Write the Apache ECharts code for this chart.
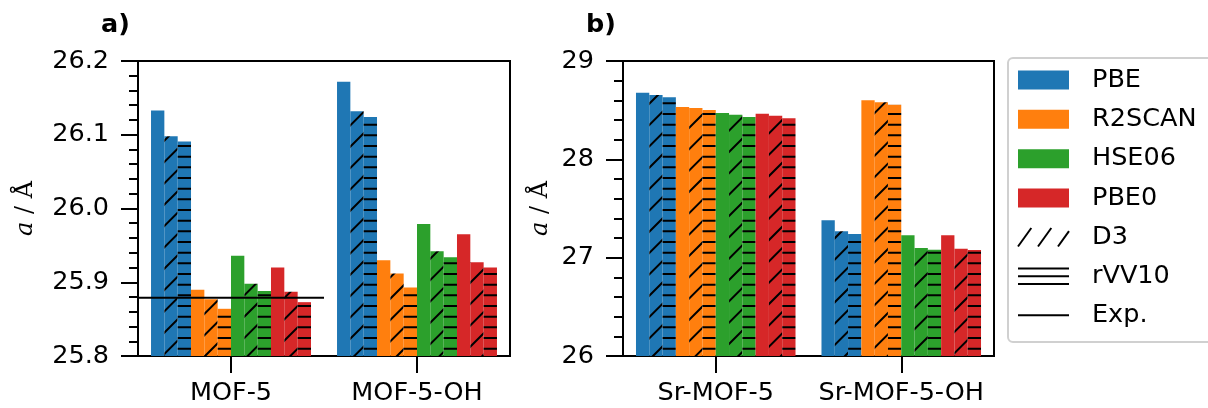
<!DOCTYPE html>
<html>
<head>
<meta charset="utf-8">
<script src="https://cdn.jsdelivr.net/npm/echarts@6/dist/echarts.min.js"></script>
<style>
  html, body { margin: 0; padding: 0; background: #fff; }
  #chart { width: 1208px; height: 408px; }
</style>
</head>
<body>
<div id="chart"></div>
<script>
// categories
const categoriesA = ['MOF-5', 'MOF-5-OH'];
const categoriesB = ['Sr-MOF-5', 'Sr-MOF-5-OH'];
const functionals = ['PBE', 'R2SCAN', 'HSE06', 'PBE0'];
const corrections = ['', 'D3', 'rVV10'];

// panel a) lattice constants, [MOF-5, MOF-5-OH]
const pbeA = [26.133, 26.172];
const pbeD3A = [26.098, 26.132];
const pbeVVA = [26.091, 26.124];
const r2scanA = [25.890, 25.930];
const r2scanD3A = [25.877, 25.912];
const r2scanVVA = [25.864, 25.893];
const hseA = [25.936, 25.979];
const hseD3A = [25.898, 25.942];
const hseVVA = [25.888, 25.934];
const pbe0A = [25.920, 25.965];
const pbe0D3A = [25.887, 25.927];
const pbe0VVA = [25.873, 25.920];
// experimental value for MOF-5, drawn across its category
const expA = [25.879];

// panel b) lattice constants, [Sr-MOF-5, Sr-MOF-5-OH]
const pbeB = [28.678, 27.380];
const pbeD3B = [28.654, 27.268];
const pbeVVB = [28.631, 27.241];
const r2scanB = [28.532, 28.600];
const r2scanD3B = [28.522, 28.580];
const r2scanVVB = [28.502, 28.556];
const hseB = [28.471, 27.227];
const hseD3B = [28.454, 27.098];
const hseVVB = [28.430, 27.081];
const pbe0B = [28.464, 27.227];
const pbe0D3B = [28.444, 27.091];
const pbe0VVB = [28.417, 27.078];

const colors = ['#1f77b4', '#ff7f0e', '#2ca02c', '#d62728'];

const panelA = [
  [pbeA, pbeD3A, pbeVVA],
  [r2scanA, r2scanD3A, r2scanVVA],
  [hseA, hseD3A, hseVVA],
  [pbe0A, pbe0D3A, pbe0VVA]
];
const panelB = [
  [pbeB, pbeD3B, pbeVVB],
  [r2scanB, r2scanD3B, r2scanVVB],
  [hseB, hseD3B, hseVVB],
  [pbe0B, pbe0D3B, pbe0VVB]
];

const FONT = 'DejaVu Sans';
const FS = 25.5;

// hatch fill like matplotlib '/' and '--'
function hatch(color, kind) {
  const c = document.createElement('canvas');
  c.width = 64;
  c.height = 64;
  const g = c.getContext('2d');
  g.fillStyle = color;
  g.fillRect(0, 0, 64, 64);
  g.strokeStyle = '#000';
  g.lineWidth = 2;
  g.beginPath();
  if (kind === 'D3') {
    for (let k = -1; k <= 6; k++) {
      const c0 = 6.3 + k * 64 / 3;
      g.moveTo(c0 + 6, -6);
      g.lineTo(c0 - 70, 70);
    }
  } else {
    for (let k = 0; k < 6; k++) {
      const y = 7.3 + k * 64 / 6;
      g.moveTo(0, y);
      g.lineTo(64, y);
    }
  }
  g.stroke();
  return { image: c, repeat: 'repeat' };
}

const fills = colors.map(col => [col, hatch(col, 'D3'), hatch(col, 'rVV10')]);

let series = [];
[panelA, panelB].forEach((panel, p) => {
  panel.forEach((rows, f) => {
    rows.forEach((vals, v) => {
      series.push({
        name: functionals[f] + (corrections[v] ? ' ' + corrections[v] : ''),
        type: 'bar',
        xAxisIndex: p,
        yAxisIndex: p,
        data: vals,
        barGap: '0%',
        barCategoryGap: '14%',
        itemStyle: { color: fills[f][v] },
        silent: true
      });
    });
  });
});

series.push({
  name: 'Exp.',
  type: 'line',
  xAxisIndex: 2,
  yAxisIndex: 0,
  data: [[-0.5, expA[0]], [0.5, expA[0]]],
  symbol: 'none',
  lineStyle: { color: '#000', width: 2 },
  z: 5,
  silent: true
});

const axisLine = { show: true, onZero: false, lineStyle: { color: '#000', width: 2 } };
const tickStyle = { color: '#000', width: 2 };
const yName = {
  name: '{i|a} / Å',
  nameLocation: 'middle',
  nameRotate: 90,
  nameTextStyle: {
    fontFamily: 'DejaVu Serif',
    fontSize: 24,
    color: '#000',
    rich: { i: { fontFamily: 'DejaVu Serif', fontStyle: 'italic', fontSize: 24, color: '#000' } }
  }
};

function catAxis(idx, data) {
  return {
    type: 'category',
    gridIndex: idx,
    data: data,
    axisLine: axisLine,
    axisTick: { show: true, alignWithLabel: true, length: 17, lineStyle: tickStyle },
    axisLabel: { interval: 0, fontSize: FS, fontFamily: FONT, color: '#000', margin: 24 },
    splitLine: { show: false }
  };
}

function valAxis(idx, min, max, interval, digits, gap) {
  return Object.assign({
    type: 'value',
    gridIndex: idx,
    min: min,
    max: max,
    interval: interval,
    axisLine: axisLine,
    axisTick: { show: true, length: 17, lineStyle: tickStyle },
    minorTick: { show: true, splitNumber: 5, length: 9, lineStyle: tickStyle },
    splitLine: { show: false },
    axisLabel: {
      fontSize: FS, fontFamily: FONT, color: '#000', margin: 29,
      formatter: v => v.toFixed(digits)
    },
    nameGap: gap
  }, yName);
}

// legend drawn by hand (hatch icons)
const legendY = [80, 119.3, 158.7, 198, 237, 276.3, 315.3];
const legendNames = functionals.concat(['D3', 'rVV10', 'Exp.']);
let graphic = [{
  type: 'rect',
  shape: { x: 1008, y: 58, width: 216, height: 284, r: 5 },
  style: { fill: '#fff', stroke: '#d0d0d0', lineWidth: 2 }
}];
colors.forEach((col, i) => {
  graphic.push({
    type: 'rect',
    shape: { x: 1018, y: legendY[i] - 9.5, width: 51, height: 19 },
    style: { fill: col }
  });
});
[0, 1, 2].forEach(k => {
  const x0 = 1018 + 20 * k;
  const x1 = Math.min(x0 + 13.3, 1069);
  const y1 = 246.5 - (x1 - x0) * 18.5 / 13.3;
  graphic.push({
    type: 'line',
    shape: { x1: x0, y1: 246.5, x2: x1, y2: y1 },
    style: { stroke: '#000', lineWidth: 2 }
  });
  graphic.push({
    type: 'line',
    shape: { x1: 1018, y1: 268.5 + 7.8 * k, x2: 1069, y2: 268.5 + 7.8 * k },
    style: { stroke: '#000', lineWidth: 2 }
  });
});
graphic.push({
  type: 'line',
  shape: { x1: 1018, y1: legendY[6], x2: 1069, y2: legendY[6] },
  style: { stroke: '#000', lineWidth: 2 }
});
legendNames.forEach((n, i) => {
  graphic.push({
    type: 'text',
    x: 1092,
    y: legendY[i],
    style: { text: n, fontSize: FS, fontFamily: FONT, fill: '#000', verticalAlign: 'middle' }
  });
});

const chart = echarts.init(document.getElementById('chart'), null, { renderer: 'canvas' });

const option = {
  animation: false,
  backgroundColor: '#fff',
  title: [
    { text: 'a)', left: 101, top: 12, padding: 0,
      textStyle: { fontSize: FS, fontWeight: 'bold', fontFamily: FONT, color: '#000' } },
    { text: 'b)', left: 586, top: 12, padding: 0,
      textStyle: { fontSize: FS, fontWeight: 'bold', fontFamily: FONT, color: '#000' } }
  ],
  grid: [
    { left: 138, top: 61, width: 372, height: 295, show: true, borderColor: '#000', borderWidth: 2, backgroundColor: 'transparent' },
    { left: 623, top: 61, width: 371, height: 295, show: true, borderColor: '#000', borderWidth: 2, backgroundColor: 'transparent' }
  ],
  xAxis: [
    catAxis(0, categoriesA),
    catAxis(1, categoriesB),
    { type: 'value', gridIndex: 0, min: -0.5, max: 1.5, show: false }
  ],
  yAxis: [
    valAxis(0, 25.8, 26.2, 0.1, 1, 100),
    valAxis(1, 26, 29, 1, 0, 70)
  ],
  series: series,
  graphic: graphic
};

chart.setOption(option);
window.addEventListener('resize', chart.resize);
</script>
</body>
</html>
